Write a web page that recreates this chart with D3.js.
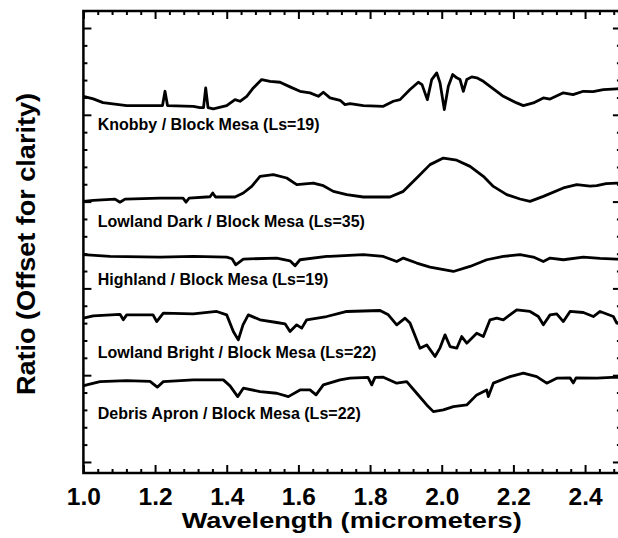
<!DOCTYPE html>
<html lang="en">
<head>
  <meta charset="UTF-8">
  <title>Ratio spectra</title>
  <script src="https://cdn.jsdelivr.net/npm/d3@7"></script>
  <style>
    body { margin: 0; background: #fff; }
    text { font-family: "Liberation Sans", Arial, Helvetica, sans-serif; font-weight: bold; fill: #000; }
  </style>
</head>
<body>
<div id="grafica"></div>

<script>
// wavelength (micrometers), ratio + offset
knobby = [
  [1.000, 0.4213], [1.0276, 0.4183], [1.0547, 0.4141], [1.1208, 0.4106], [1.2138, 0.4106],
  [1.2208, 0.4106], [1.2277, 0.4271], [1.2347, 0.4106], [1.3067, 0.4098], [1.3254, 0.4083],
  [1.3352, 0.4083], [1.3413, 0.4310], [1.3478, 0.4083], [1.3625, 0.4068], [1.3999, 0.4106],
  [1.4231, 0.4175], [1.4371, 0.4156], [1.4558, 0.4213], [1.4742, 0.4310], [1.4976, 0.4406],
  [1.5208, 0.4386], [1.5487, 0.4375], [1.5766, 0.4322], [1.6045, 0.4271], [1.6324, 0.4253],
  [1.6556, 0.4213], [1.6696, 0.4260], [1.6882, 0.4195], [1.7162, 0.4167], [1.7301, 0.4118],
  [1.7441, 0.4129], [1.7812, 0.4106], [1.8370, 0.4098], [1.8649, 0.4156], [1.8836, 0.4175],
  [1.9115, 0.4291], [1.9347, 0.4375], [1.9450, 0.4348], [1.9598, 0.4175], [1.9721, 0.4406],
  [1.9860, 0.4483], [1.9953, 0.4368], [2.0072, 0.4060], [2.0184, 0.4329], [2.0307, 0.4464],
  [2.0419, 0.4426], [2.0511, 0.4406], [2.0603, 0.4271], [2.0698, 0.4406], [2.0837, 0.4437],
  [2.0977, 0.4426], [2.1161, 0.4386], [2.1440, 0.4299], [2.1719, 0.4213], [2.2093, 0.4137],
  [2.2277, 0.4106], [2.2556, 0.4137], [2.2836, 0.4195], [2.3023, 0.4181], [2.3394, 0.4253],
  [2.3664, 0.4233], [2.3952, 0.4271], [2.4223, 0.4268], [2.4510, 0.4291], [2.4884, 0.4299],
  [2.5000, 0.4302]
]

lowlandDark = [
  [1.000, 0.3002], [1.0276, 0.3014], [1.0882, 0.3028], [1.1021, 0.2993], [1.1161, 0.3028],
  [1.2138, 0.3041], [1.2780, 0.3039], [1.2864, 0.2993], [1.2947, 0.3039], [1.3533, 0.3056],
  [1.3609, 0.3099], [1.3687, 0.3053], [1.4231, 0.3053], [1.4463, 0.3099], [1.4697, 0.3175],
  [1.4929, 0.3291], [1.5300, 0.3310], [1.5674, 0.3272], [1.5953, 0.3195], [1.6416, 0.3214],
  [1.6696, 0.3183], [1.6975, 0.3118], [1.7349, 0.3080], [1.7812, 0.3053], [1.8557, 0.3053],
  [1.8928, 0.3118], [1.9302, 0.3272], [1.9673, 0.3426], [2.0045, 0.3501], [2.0419, 0.3477],
  [2.0790, 0.3406], [2.1161, 0.3291], [2.1440, 0.3175], [2.1814, 0.3080], [2.2185, 0.3030],
  [2.2464, 0.3002], [2.2836, 0.3060], [2.3394, 0.3157], [2.3768, 0.3195], [2.4139, 0.3178],
  [2.4326, 0.3183], [2.4586, 0.3206], [2.4884, 0.3214], [2.5000, 0.3212]
]

highland = [
  [1.000, 0.2388], [1.0742, 0.2368], [1.2138, 0.2361], [1.3067, 0.2368], [1.3999, 0.2361],
  [1.4147, 0.2341], [1.4250, 0.2272], [1.4463, 0.2338], [1.5395, 0.2349], [1.5766, 0.2318],
  [1.5906, 0.2261], [1.6045, 0.2330], [1.6790, 0.2368], [1.6882, 0.2368], [1.7812, 0.2388],
  [1.8370, 0.2368], [1.8744, 0.2310], [1.8928, 0.2349], [1.9302, 0.2292], [1.9673, 0.2246],
  [2.0324, 0.2195], [2.0790, 0.2253], [2.1256, 0.2330], [2.1719, 0.2368], [2.2185, 0.2388],
  [2.2556, 0.2361], [2.2836, 0.2310], [2.3023, 0.2349], [2.3394, 0.2330], [2.3952, 0.2361],
  [2.4418, 0.2347], [2.4884, 0.2338], [2.5000, 0.2338]
]

lowlandBright = [
  [1.000, 0.1657], [1.0276, 0.1684], [1.1021, 0.1701], [1.1114, 0.1638], [1.1208, 0.1695],
  [1.1943, 0.1695], [1.2046, 0.1618], [1.2230, 0.1715], [1.3067, 0.1707], [1.3720, 0.1734],
  [1.3999, 0.1695], [1.4184, 0.1503], [1.4323, 0.1407], [1.4454, 0.1580], [1.4602, 0.1695],
  [1.4929, 0.1638], [1.5395, 0.1607], [1.5627, 0.1592], [1.5766, 0.1503], [1.5953, 0.1580],
  [1.6093, 0.1542], [1.6232, 0.1638], [1.6790, 0.1676], [1.7162, 0.1715], [1.7349, 0.1734],
  [1.8278, 0.1745], [1.8510, 0.1695], [1.8744, 0.1580], [1.8976, 0.1657], [1.9115, 0.1600],
  [1.9394, 0.1311], [1.9581, 0.1349], [1.9813, 0.1215], [1.9953, 0.1315], [2.0092, 0.1465],
  [2.0232, 0.1330], [2.0419, 0.1311], [2.0558, 0.1445], [2.0698, 0.1369], [2.0977, 0.1484],
  [2.1161, 0.1445], [2.1348, 0.1638], [2.1535, 0.1657], [2.1719, 0.1638], [2.2093, 0.1753],
  [2.2464, 0.1734], [2.2696, 0.1676], [2.2836, 0.1580], [2.3023, 0.1695], [2.3209, 0.1707],
  [2.3394, 0.1618], [2.3581, 0.1734], [2.3952, 0.1722], [2.4231, 0.1676], [2.4418, 0.1734],
  [2.4789, 0.1676], [2.4884, 0.1600], [2.5000, 0.1615]
]

debrisApron = [
  [1.000, 0.0877], [1.0092, 0.0888], [1.0463, 0.0926], [1.1208, 0.0938], [1.1859, 0.0928],
  [1.2062, 0.0862], [1.2230, 0.0926], [1.3067, 0.0946], [1.3905, 0.0946], [1.4092, 0.0877],
  [1.4306, 0.0753], [1.4463, 0.0850], [1.4929, 0.0811], [1.5395, 0.0792], [1.5719, 0.0753],
  [1.6045, 0.0830], [1.6324, 0.0830], [1.6492, 0.0773], [1.6696, 0.0888], [1.7162, 0.0946],
  [1.7441, 0.0965], [1.7943, 0.0975], [1.8046, 0.0888], [1.8138, 0.0975], [1.8370, 0.0977],
  [1.8744, 0.0908], [1.9023, 0.0926], [1.9302, 0.0792], [1.9581, 0.0657], [1.9766, 0.0580],
  [2.0045, 0.0600], [2.0324, 0.0638], [2.0698, 0.0657], [2.0977, 0.0773], [2.1256, 0.0830],
  [2.1301, 0.0753], [2.1440, 0.0908], [2.1906, 0.0984], [2.2277, 0.1023], [2.2651, 0.0984],
  [2.2930, 0.0908], [2.3209, 0.0965], [2.3581, 0.0969], [2.3673, 0.0911], [2.3748, 0.0969],
  [2.4326, 0.0965], [2.4884, 0.0977], [2.5000, 0.0975]
]

series = [knobby, lowlandDark, highland, lowlandBright, debrisApron]
seriesLabels = [
  'Knobby / Block Mesa (Ls=19)',
  'Lowland Dark / Block Mesa (Ls=35)',
  'Highland / Block Mesa (Ls=19)',
  'Lowland Bright / Block Mesa (Ls=22)',
  'Debris Apron / Block Mesa (Ls=22)'
]
// where each label sits (wavelength, ratio)
labelPos = [[1.04, 0.3820], [1.04, 0.2710], [1.04, 0.2040], [1.04, 0.1200], [1.04, 0.0500]]

xTicks = [1.0, 1.2, 1.4, 1.6, 1.8, 2.0, 2.2, 2.4]
xTickLabels = ['1.0', '1.2', '1.4', '1.6', '1.8', '2.0', '2.2', '2.4']
yTicks = [0.0, 0.1, 0.2, 0.3, 0.4, 0.5]

ancho_total = 618
alto_total = 538

svg = d3
        .select('#grafica')
        .append('svg')
        .attr('width', ancho_total)
        .attr('height', alto_total)

x = d3
      .scaleLinear()
      .domain([1.0, 2.5])
      .range([83.4, 620.9])
y = d3
      .scaleLinear()
      .domain([-0.0127, 0.5196])
      .range([473, 11])

xMinor = d3.range(1.0, 2.501, 0.04).filter(v => Math.abs(v * 5 - Math.round(v * 5)) > 1e-6)
yMinor = d3.range(0, 0.521, 0.02).filter(v => Math.abs(v * 10 - Math.round(v * 10)) > 1e-6)

function axisStyle(g) {
  g.select('.domain').remove()
  g.selectAll('line').attr('stroke', '#000').attr('stroke-width', 2)
}

// bottom
svg.append('g')
  .attr('transform', `translate(0, ${y.range()[0]})`)
  .call(d3.axisBottom(x).tickValues(xTicks).tickSize(-8).tickPadding(15)
          .tickFormat((d, i) => xTickLabels[i]))
  .call(axisStyle)
  .selectAll('text')
    .attr('font-size', 24.5)
svg.append('g')
  .attr('transform', `translate(0, ${y.range()[0]})`)
  .call(d3.axisBottom(x).tickValues(xMinor).tickSize(-4).tickFormat(''))
  .call(axisStyle)

// top
svg.append('g')
  .attr('transform', `translate(0, ${y.range()[1]})`)
  .call(d3.axisTop(x).tickValues(xTicks).tickSize(-8).tickFormat(''))
  .call(axisStyle)
svg.append('g')
  .attr('transform', `translate(0, ${y.range()[1]})`)
  .call(d3.axisTop(x).tickValues(xMinor).tickSize(-4).tickFormat(''))
  .call(axisStyle)

// left + right
;[[d3.axisLeft, x.range()[0]], [d3.axisRight, x.range()[1]]].forEach(([ax, pos]) => {
  svg.append('g')
    .attr('transform', `translate(${pos}, 0)`)
    .call(ax(y).tickValues(yTicks).tickSize(-8).tickFormat(''))
    .call(axisStyle)
  svg.append('g')
    .attr('transform', `translate(${pos}, 0)`)
    .call(ax(y).tickValues(yMinor).tickSize(-4).tickFormat(''))
    .call(axisStyle)
})

// frame
svg.append('rect')
  .attr('x', x.range()[0])
  .attr('y', y.range()[1])
  .attr('width', x.range()[1] - x.range()[0])
  .attr('height', y.range()[0] - y.range()[1])
  .attr('fill', 'none')
  .attr('stroke', '#000')
  .attr('stroke-width', 2.5)

linea = d3
          .line()
          .x(d => x(d[0]))
          .y(d => y(d[1]))

svg.append('g')
  .selectAll('path')
  .data(series)
  .join('path')
    .attr('fill', 'none')
    .attr('stroke', '#000')
    .attr('stroke-width', 2.8)
    .attr('stroke-linejoin', 'round')
    .attr('d', linea)

svg.append('g')
  .selectAll('text')
  .data(seriesLabels)
  .join('text')
    .attr('x', (d, i) => x(labelPos[i][0]))
    .attr('y', (d, i) => y(labelPos[i][1]))
    .attr('font-size', 16)
    .text(d => d)

svg.append('text')
  .attr('x', 351.7)
  .attr('y', 528)
  .attr('text-anchor', 'middle')
  .attr('font-size', 22.5)
  .attr('textLength', 340)
  .attr('lengthAdjust', 'spacingAndGlyphs')
  .text('Wavelength (micrometers)')

svg.append('text')
  .attr('transform', 'translate(35, 244) rotate(-90)')
  .attr('text-anchor', 'middle')
  .attr('font-size', 25)
  .attr('textLength', 302)
  .attr('lengthAdjust', 'spacingAndGlyphs')
  .text('Ratio (Offset for clarity)')
</script>
</body>
</html>
